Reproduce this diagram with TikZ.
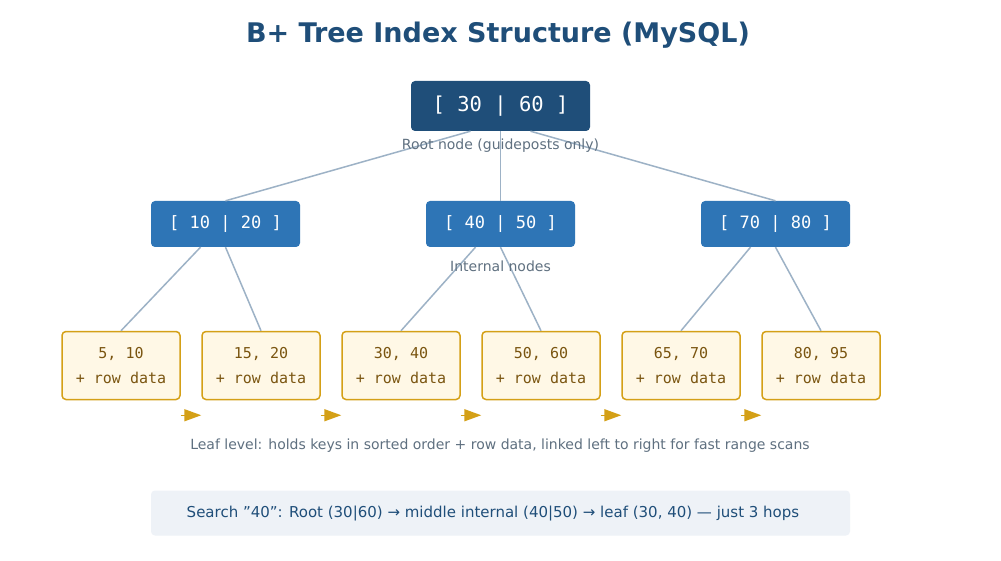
\documentclass[tikz,border=0pt]{standalone}
\usepackage{fontspec}
\setmainfont{DejaVu Sans}
\setmonofont{DejaVu Sans Mono}
\usetikzlibrary{arrows.meta}
\definecolor{dk}{HTML}{1F4E79}
\definecolor{md}{HTML}{2E75B6}
\definecolor{lf}{HTML}{FFF8E6}
\definecolor{lb}{HTML}{D4A017}
\definecolor{lt}{HTML}{7A5510}
\definecolor{gr}{HTML}{5F7080}
\definecolor{ed}{HTML}{9DB2C6}
\definecolor{sb}{HTML}{EEF2F7}
\begin{document}
\begin{tikzpicture}[x=1pt,y=-1pt,
 box/.style={rounded corners=4pt,inner sep=0pt,font=\ttfamily,align=center},
 root/.style={box,fill=dk,text=white,minimum width=179pt,minimum height=50pt,font=\ttfamily\fontsize{20.5}{24}\selectfont},
 inode/.style={box,fill=md,text=white,minimum width=149pt,minimum height=46pt,font=\ttfamily\fontsize{17}{20}\selectfont},
 leaf/.style={box,fill=lf,draw=lb,line width=1.5pt,text=lt,minimum width=118pt,minimum height=68pt,font=\ttfamily\fontsize{15}{25}\selectfont},
 note/.style={text=gr,font=\fontsize{14}{16}\selectfont},
 edge/.style={ed,line width=1.5pt},
 la/.style={lb,line width=1.5pt,-{Triangle[length=17pt,width=12pt]}}]
\fill[white] (0,0) rectangle (1001,561);
\node[text=dk,font=\bfseries\fontsize{27}{31}\selectfont] (title) at (498,35) {B+ Tree Index Structure (MySQL)};
\node[root] (r) at (500.5,106) {[ 30 | 60 ]};
\node[inode] (i1) at (225.5,224) {[ 10 | 20 ]};
\node[inode] (i2) at (500.5,224) {[ 40 | 50 ]};
\node[inode] (i3) at (775.5,224) {[ 70 | 80 ]};
\foreach \n/\x/\t in {1/121/{5, 10},2/261/{15, 20},3/401/{30, 40},4/541/{50, 60},5/681/{65, 70},6/821/{80, 95}}
  \node[leaf] (l\n) at (\x,365.5) {\t\\+ row data};
\draw[edge] ([xshift=-30pt]r.south) -- (i1.north);
\draw[edge] (r.south) -- (i2.north);
\draw[edge] ([xshift=30pt]r.south) -- (i3.north);
\draw[edge] ([xshift=-25pt]i1.south) -- (l1.north);
\draw[edge] (i1.south) -- (l2.north);
\draw[edge] ([xshift=-25pt]i2.south) -- (l3.north);
\draw[edge] (i2.south) -- (l4.north);
\draw[edge] ([xshift=-25pt]i3.south) -- (l5.north);
\draw[edge] (i3.south) -- (l6.north);
\node[note] (c1) at (500.5,146) {Root node (guideposts only)};
\node[note] (c2) at (500.5,266) {Internal nodes};
\foreach \a/\b in {1/2,2/3,3/4,4/5,5/6}{
  \coordinate (s\a) at ([yshift=-15pt]l\a.south east);
  \coordinate (e\a) at ([yshift=-15pt]l\b.south west);
  \draw[la] (s\a) -- (e\a);}
\node[note] (c3) at (500,446) {Leaf level: holds keys in sorted order + row data, linked left to right for fast range scans};
\node[fill=sb,rounded corners=4pt,minimum width=699pt,minimum height=45pt,inner sep=0pt] (sbx) at (500.5,513) {};
\node[text=dk,font=\fontsize{15}{18}\selectfont] (st) at (493,514) {Search \symbol{34}40\symbol{34}: Root (30|60) → middle internal (40|50) → leaf (30, 40) — just 3 hops};
\end{tikzpicture}
\end{document}
